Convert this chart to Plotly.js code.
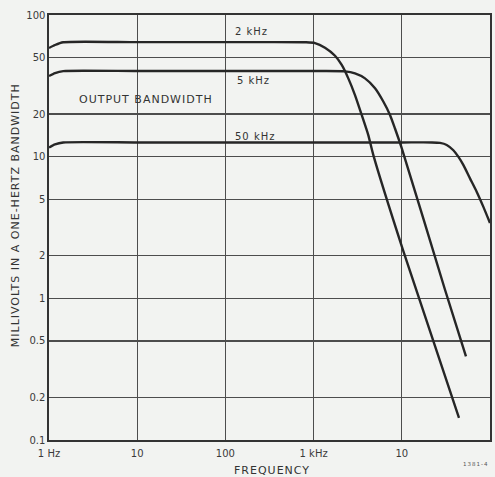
<!DOCTYPE html>
<html>
<head>
<meta charset="utf-8">
<script src="https://cdn.plot.ly/plotly-3.0.1.min.js"></script>
<style>
  html, body { margin: 0; padding: 0; background: #f2f3f1; }
  .annotation-text { letter-spacing: 1px; }
</style>
</head>
<body>
<div id="chart" style="width:495px;height:477px;"></div>
<script>
// Frequency (Hz) and output noise (mV in a 1-Hz bandwidth) for each output bandwidth
const freq2k = [1, 1.17, 1.45, 10, 100, 800, 1037, 1346, 1749, 2084, 2474, 2946, 3510, 4170, 4750, 10300, 44500];
const mv2k   = [58.5, 61.4, 64.2, 64.3, 64.3, 64.2, 63.4, 58.8, 51.6, 44.4, 35.7, 27.2, 19.7, 14.2, 10.3, 2.2, 0.143];

const freq5k = [1, 1.17, 1.45, 10, 100, 1000, 2270, 2946, 3826, 4970, 6170, 7350, 8370, 9980, 30900, 53400];
const mv5k   = [37.1, 38.9, 40.2, 40.2, 40.2, 40.2, 40.0, 38.7, 35.7, 30.4, 24.5, 19.7, 15.8, 11.5, 1.15, 0.39];

const freq50k = [1, 1.17, 1.45, 10, 100, 1000, 10000, 22000, 27100, 32300, 38400, 43700, 49800, 59300, 70600, 83900, 100000];
const mv50k   = [11.6, 12.2, 12.6, 12.6, 12.6, 12.6, 12.6, 12.6, 12.5, 12.1, 11.1, 10.0, 8.74, 7.03, 5.66, 4.44, 3.4];

const xTickVals = [1, 10, 100, 1000, 10000, 100000];
const xTickText = ["1 Hz", "10", "100", "1 kHz", "10", "100"];
const yTickVals = [0.1, 0.2, 0.5, 1, 2, 5, 10, 20, 50, 100];
const yTickText = ["0.1", "0.2", "0.5", "1", "2", "5", "10", "20", "50", "100"];

const seriesLabels = ["2 kHz", "5 kHz", "50 kHz"];

const lineStyle = {color: '#262626', width: 2.4, shape: 'spline', smoothing: 0.6};
const traces = [
  {x: freq2k, y: mv2k, name: seriesLabels[0]},
  {x: freq5k, y: mv5k, name: seriesLabels[1]},
  {x: freq50k, y: mv50k, name: seriesLabels[2]}
].map(t => Object.assign(t, {type: 'scatter', mode: 'lines', line: lineStyle, hoverinfo: 'x+y'}));

const tickFont = {family: 'DejaVu Sans', size: 10, color: '#3a3a3a'};
const labelFont = {family: 'DejaVu Sans', size: 10, color: '#333'};
const titleFont = {family: 'DejaVu Sans', size: 11, color: '#333'};

function note(x, y, text, font, extra) {
  return Object.assign({xref: 'paper', yref: 'paper', x: x, y: y, text: text, showarrow: false,
    xanchor: 'center', yanchor: 'middle', font: font}, extra || {});
}

const layout = {
  width: 495, height: 477,
  margin: {l: 49, r: 5, t: 15, b: 37},
  paper_bgcolor: '#f2f3f1',
  plot_bgcolor: '#f2f3f1',
  showlegend: false,
  xaxis: {
    type: 'log', range: [0, 5],
    tickvals: xTickVals, ticktext: xTickText,
    showgrid: true, gridcolor: '#4d4d4d', gridwidth: 1.2,
    showline: true, mirror: true, linecolor: '#333', linewidth: 1.6,
    ticks: '', zeroline: false, tickfont: tickFont, ticklabelstandoff: 3
  },
  yaxis: {
    type: 'log', range: [-1, 2],
    tickvals: yTickVals, ticktext: yTickText,
    showgrid: true, gridcolor: '#4d4d4d', gridwidth: 1.2,
    showline: true, mirror: true, linecolor: '#333', linewidth: 1.6,
    ticks: '', zeroline: false, tickfont: tickFont
  },
  annotations: [
    note(0.460, 0.962, seriesLabels[0], labelFont),
    note(0.463, 0.845, seriesLabels[1], labelFont),
    note(0.467, 0.715, seriesLabels[2], labelFont),
    note(0.219, 0.802, 'OUTPUT BANDWIDTH', titleFont),
    note(-0.077, 0.529, 'MILLIVOLTS IN A ONE-HERTZ BANDWIDTH', titleFont, {textangle: -90}),
    note(0.506, -0.0706, 'FREQUENCY', titleFont),
    note(0.968, -0.0565, '1381-4', {family: 'DejaVu Sans', size: 5.5, color: '#555'})
  ]
};

Plotly.newPlot('chart', traces, layout, {displayModeBar: false, staticPlot: true});
</script>
</body>
</html>
